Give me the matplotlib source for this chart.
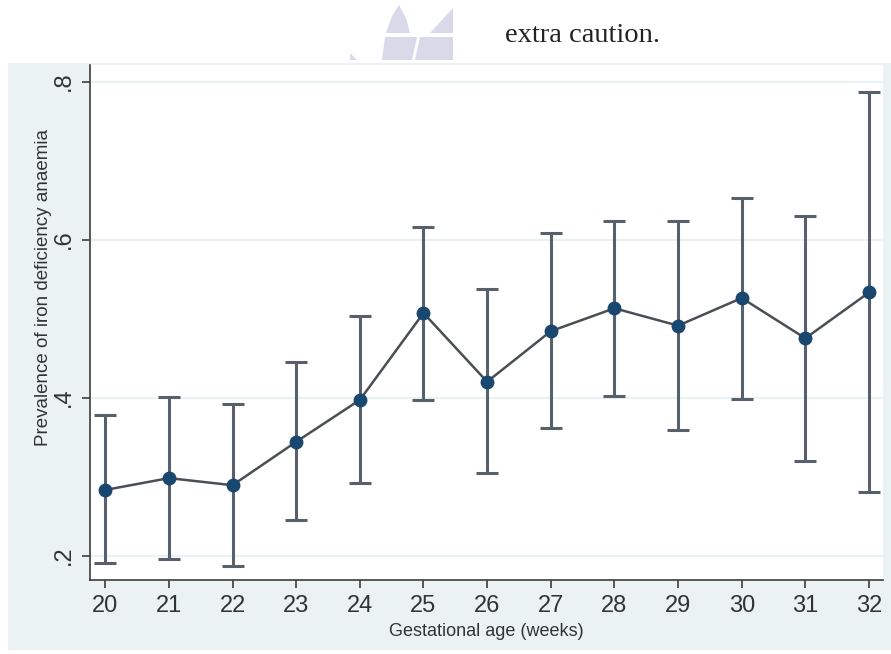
import matplotlib
matplotlib.use("Agg")
import matplotlib.pyplot as plt
from matplotlib.patches import Rectangle, Polygon

# Prevalence of iron deficiency anaemia by gestational week, with 95% CI
weeks = [20, 21, 22, 23, 24, 25, 26, 27, 28, 29, 30, 31, 32]
prevalence = [0.283, 0.298, 0.289, 0.344, 0.397, 0.507, 0.420, 0.484, 0.513, 0.491, 0.526, 0.475, 0.533]
ci_lower = [0.190, 0.196, 0.187, 0.245, 0.292, 0.397, 0.304, 0.362, 0.402, 0.359, 0.398, 0.320, 0.281]
ci_upper = [0.378, 0.401, 0.392, 0.445, 0.503, 0.616, 0.537, 0.608, 0.624, 0.623, 0.653, 0.630, 0.787]
y_ticks = [0.2, 0.4, 0.6, 0.8]
y_tick_labels = [".2", ".4", ".6", ".8"]

W, H = 891, 654
fig = plt.figure(figsize=(W / 100, H / 100), dpi=100)
fig.patch.set_facecolor("white")
plt.rcParams["font.family"] = ["Liberation Sans", "DejaVu Sans"]

def fx(px):
    return px / W

def fy(py):
    return 1 - py / H

# page header: faint logo and trailing text line
logo = "#d9d9e9"
for pts in [
    [(399, 5), (406, 18), (410, 33), (386, 33), (392, 16)],
    [(385, 37), (417, 37), (412, 60), (382, 60)],
    [(453, 8), (453, 33), (430, 33)],
    [(420, 37), (453, 37), (453, 60), (415, 60)],
    [(350, 53), (357, 60), (350, 60)],
]:
    fig.patches.append(Polygon([(fx(x), fy(y)) for x, y in pts], closed=True,
                               transform=fig.transFigure, facecolor=logo,
                               edgecolor="none", zorder=0))
fig.text(fx(505), fy(42), "extra caution.", family=["Liberation Serif", "DejaVu Serif"],
         fontsize=20.5, color="#222222", ha="left", va="baseline")

# graph region
fig.patches.append(Rectangle((fx(8), fy(650)), 1 - fx(8), fy(63) - fy(650),
                             transform=fig.transFigure, facecolor="#eaf2f3",
                             edgecolor="none", zorder=0))

ax = fig.add_axes([fx(90), fy(580), fx(883) - fx(90), fy(65) - fy(580)])
ax.set_zorder(2)
ax.set_facecolor("white")

yerr = [[p - lo for p, lo in zip(prevalence, ci_lower)],
        [hi - p for p, hi in zip(prevalence, ci_upper)]]
ax.errorbar(weeks, prevalence, yerr=yerr, fmt="none", ecolor="#58616b",
            elinewidth=2.2, capsize=8, capthick=2.2, zorder=2)
ax.plot(weeks, prevalence, color="#4a4f55", linewidth=1.8, zorder=3)
ax.plot(weeks, prevalence, linestyle="none", marker="o", markersize=9,
        markerfacecolor="#1a476f", markeredgecolor="#1a476f", zorder=4)

ax.set_xlim(19.76, 32.22)
ax.set_ylim(0.169, 0.821)
ax.set_xticks(weeks)
ax.set_xticklabels([str(w) for w in weeks])
ax.set_yticks(y_ticks)
ax.set_yticklabels(y_tick_labels, rotation=90, va="center")

for y in y_ticks:
    ax.axhline(y, color="#eaf2f3", linewidth=1.6, zorder=1)

for side in ["top", "right"]:
    ax.spines[side].set_visible(False)
for side in ["left", "bottom"]:
    ax.spines[side].set_color("#3c3c3c")
    ax.spines[side].set_linewidth(1.2)

ax.tick_params(axis="both", colors="#3c3c3c", length=6, width=1.2,
               labelsize=17, labelcolor="#333333")
ax.tick_params(axis="x", pad=5)
ax.tick_params(axis="y", pad=5)

# axis titles, placed within the graph region
fig.text(fx(486), fy(631), "Gestational age (weeks)", fontsize=13, color="#333333",
         ha="center", va="center")
fig.text(fx(44), fy(288), "Prevalence of iron deficiency anaemia", fontsize=13.5,
         color="#333333", rotation=90, ha="center", va="center")

fig.savefig("out.png", dpi=100, facecolor="white")
